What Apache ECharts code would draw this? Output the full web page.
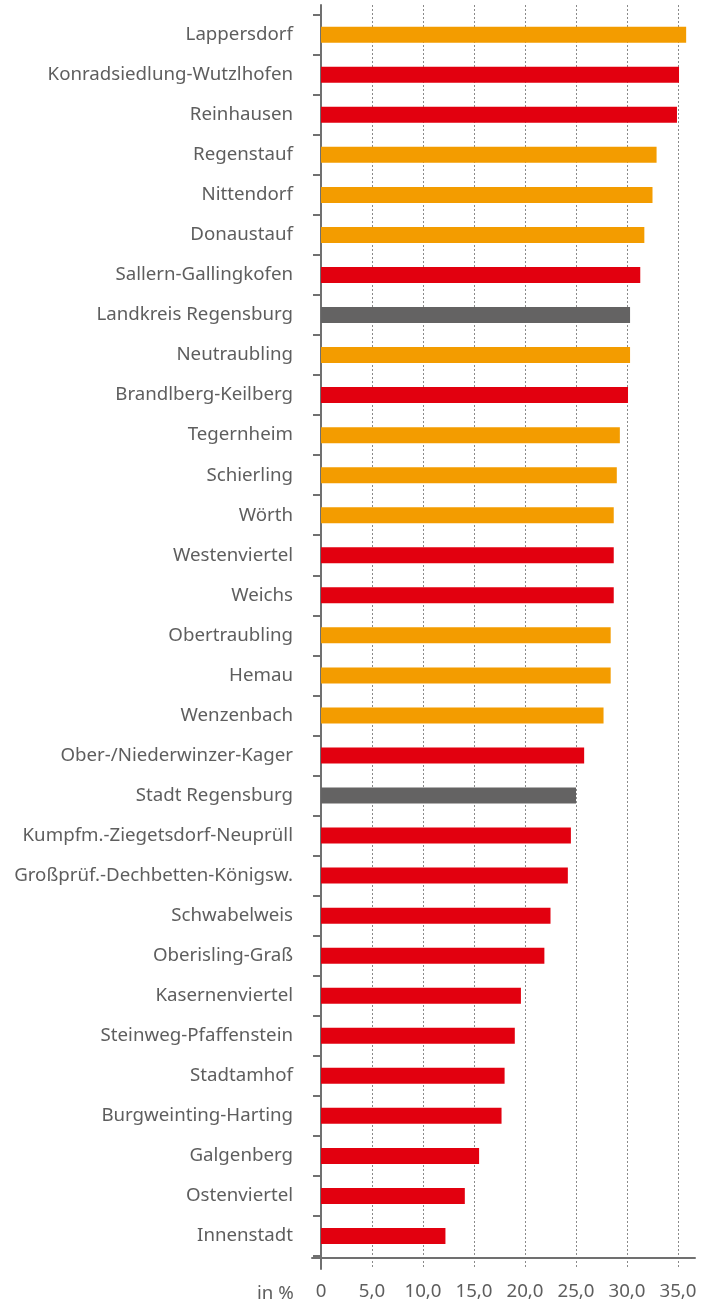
<!DOCTYPE html>
<html>
<head>
<meta charset="utf-8">
<script src="https://cdn.jsdelivr.net/npm/echarts@6/dist/echarts.min.js"></script>
<style>
html,body{margin:0;padding:0;background:#fff;}
#c{width:713px;height:1306px;}
</style>
</head>
<body>
<div id="c"></div>
<script>
// Categories, top to bottom
const categories = [
  "Lappersdorf","Konradsiedlung-Wutzlhofen","Reinhausen","Regenstauf","Nittendorf",
  "Donaustauf","Sallern-Gallingkofen","Landkreis Regensburg","Neutraubling","Brandlberg-Keilberg",
  "Tegernheim","Schierling","Wörth","Westenviertel","Weichs",
  "Obertraubling","Hemau","Wenzenbach","Ober-/Niederwinzer-Kager","Stadt Regensburg",
  "Kumpfm.-Ziegetsdorf-Neuprüll","Großprüf.-Dechbetten-Königsw.","Schwabelweis","Oberisling-Graß","Kasernenviertel",
  "Steinweg-Pfaffenstein","Stadtamhof","Burgweinting-Harting","Galgenberg","Ostenviertel",
  "Innenstadt"
];
// Values in %
const values = [
  35.8,35.1,34.9,32.9,32.5,
  31.7,31.3,30.3,30.3,30.1,
  29.3,29.0,28.7,28.7,28.7,
  28.4,28.4,27.7,25.8,25.0,
  24.5,24.2,22.5,21.9,19.6,
  19.0,18.0,17.7,15.5,14.1,
  12.2
];
// Group: L = Landkreis municipality, S = city district, T = total
const groups = [
  "L","S","S","L","L",
  "L","S","T","L","S",
  "L","L","L","S","S",
  "L","L","L","S","T",
  "S","S","S","S","S",
  "S","S","S","S","S",
  "S"
];
const xTicks = {min:0, max:35, interval:5};
const unitLabel = "in %";

const groupColor = {L:"#F39C00", S:"#E2000F", T:"#646363"};
const axisColor = "#707070";
const textColor = "#5e5e5e";
const font = "Noto Sans";

const chart = echarts.init(document.getElementById('c'), null, {renderer:'canvas'});
chart.setOption({
  animation:false,
  backgroundColor:'#fff',
  textStyle:{fontFamily:font},
  title:{
    text:unitLabel, left:252, top:1279,
    textStyle:{fontSize:18.7, fontWeight:'normal', color:textColor, fontFamily:font}
  },
  grid:[
    {left:321, right:35, top:14.7, bottom:50, containLabel:false},   // bars
    {left:321, right:35, top:5, bottom:37, containLabel:false},    // gridlines + y line + x labels
    {left:312, right:18, top:5, bottom:48, containLabel:false}     // x axis line
  ],
  xAxis:[
    {gridIndex:0, type:'value', min:xTicks.min, max:xTicks.max, interval:xTicks.interval,
     axisLine:{show:false}, axisTick:{show:false}, axisLabel:{show:false}, splitLine:{show:false}},
    {gridIndex:1, type:'value', min:xTicks.min, max:xTicks.max, interval:xTicks.interval,
     axisLine:{show:false},
     axisTick:{show:false},
     axisLabel:{show:true, margin:13, fontSize:18.7, color:textColor, fontFamily:font,
       formatter:v => v===0 ? "0" : v.toFixed(1).replace('.',',')},
     splitLine:{show:true, lineStyle:{color:'#8a8a8a', width:1, type:[2,2]}}},
    {gridIndex:2, type:'value', min:0, max:1,
     axisLine:{show:true, lineStyle:{color:axisColor, width:2}},
     axisTick:{show:false}, axisLabel:{show:false}, splitLine:{show:false}}
  ],
  yAxis:[
    {gridIndex:0, type:'category', data:categories, inverse:true,
     axisLine:{show:false},
     axisTick:{show:true, length:8, lineStyle:{color:axisColor, width:2}},
     axisLabel:{margin:28, fontSize:18.7, color:textColor, fontFamily:font}},
    {gridIndex:1, type:'value', min:0, max:1,
     axisLine:{show:true, onZero:false, lineStyle:{color:axisColor, width:2}},
     axisTick:{show:false}, axisLabel:{show:false}, splitLine:{show:false}},
    {gridIndex:2, type:'value', min:0, max:1, show:false}
  ],
  series:[{
    type:'bar', xAxisIndex:0, yAxisIndex:0, barWidth:16, clip:false,
    data: values.map((v,i)=>({value:v, itemStyle:{color:groupColor[groups[i]]}})),
    z:3
  }]
});
</script>
</body>
</html>
